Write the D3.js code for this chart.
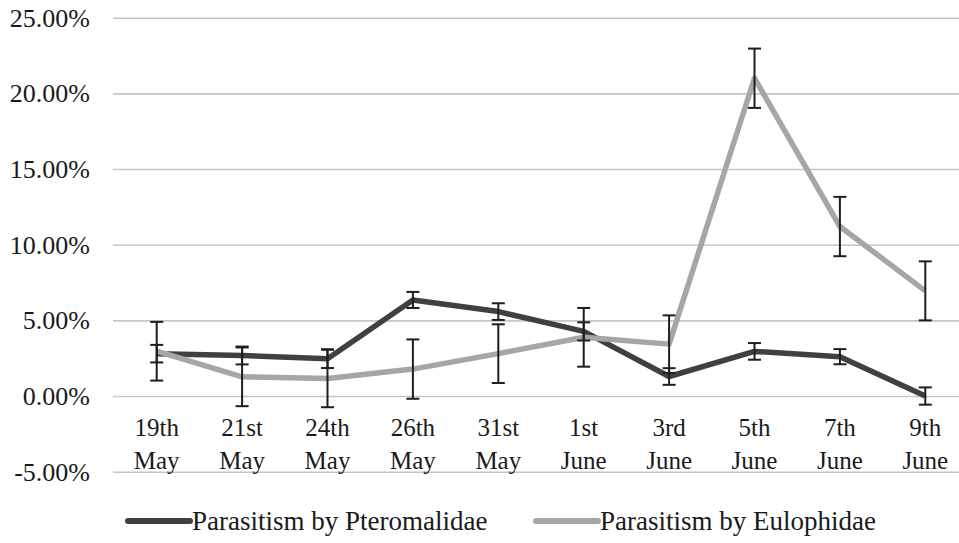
<!DOCTYPE html>
<html>
<head>
<meta charset="utf-8">
<script src="https://cdn.jsdelivr.net/npm/d3@7"></script>
<style>
    body { margin: 0; background: #fff; }
    svg text { font-family: "Times New Roman", "Liberation Serif", "DejaVu Serif", serif; fill: #1a1a1a; }
</style>
</head>
<body>
<div id="parasitism_plot"></div>
<script>
// data (percent)
var categories = ["19th May", "21st May", "24th May", "26th May", "31st May",
    "1st June", "3rd June", "5th June", "7th June", "9th June"];
var pteromalidae = [2.8, 2.68, 2.47, 6.35, 5.58, 4.27, 1.29, 2.95, 2.6, 0.0];
var pteromalidaeErr = [0.58, 0.59, 0.62, 0.53, 0.55, 0.6, 0.55, 0.55, 0.5, 0.57];
var eulophidae = [2.96, 1.27, 1.16, 1.78, 2.8, 3.88, 3.43, 21.0, 11.2, 6.95];
var eulophidaeErr = [1.94, 1.94, 1.9, 1.96, 1.94, 1.94, 1.9, 1.96, 1.96, 1.95];
var yTicks = [-5, 0, 5, 10, 15, 20, 25];
var seriesNames = ["Parasitism by Pteromalidae", "Parasitism by Eulophidae"];

var width = 959, height = 543;

var svg = d3.select("#parasitism_plot")
    .append("svg")
    .attr("width", width)
    .attr("height", height);

// X scale (one band per sampling date)
var x = d3.scaleBand()
    .domain(categories)
    .range([114, 968]);

// Y scale
var y = d3.scaleLinear()
    .domain([-5, 25])
    .range([471.7, 17.7]);

// gridlines + labels
var yAxis = svg.append("g")
    .attr("transform", "translate(113,0)")
    .call(d3.axisLeft(y)
        .tickValues(yTicks)
        .tickSize(-860)
        .tickPadding(23)
        .tickFormat(function (d) { return d.toFixed(2) + "%"; }));
yAxis.attr("font-family", null).attr("font-size", null);
yAxis.select(".domain").remove();
yAxis.selectAll(".tick line")
    .attr("stroke", "#c6c6c6")
    .attr("stroke-width", 1.6);
yAxis.selectAll(".tick text")
    .style("font-size", "26px")
    .attr("fill", "#1a1a1a");

// category labels, two lines each
var xLabels = svg.append("g")
    .selectAll("text")
    .data(categories)
    .enter()
    .append("text")
    .attr("text-anchor", "middle")
    .style("font-size", "25px")
    .attr("x", function (d) { return x(d) + x.bandwidth() / 2; });
xLabels.append("tspan")
    .attr("x", function (d) { return x(d) + x.bandwidth() / 2; })
    .attr("y", 436)
    .text(function (d) { return d.split(" ")[0]; });
xLabels.append("tspan")
    .attr("x", function (d) { return x(d) + x.bandwidth() / 2; })
    .attr("y", 469)
    .text(function (d) { return d.split(" ")[1]; });

function cx(i) { return x(categories[i]) + x.bandwidth() / 2; }

var line = d3.line()
    .x(function (d, i) { return cx(i); })
    .y(function (d) { return y(d); });

var colors = ["#404040", "#a6a6a6"];

svg.append("path")
    .datum(pteromalidae)
    .attr("fill", "none")
    .attr("stroke", colors[0])
    .attr("stroke-width", 5.5)
    .attr("stroke-linejoin", "round")
    .attr("d", line);

svg.append("path")
    .datum(eulophidae)
    .attr("fill", "none")
    .attr("stroke", colors[1])
    .attr("stroke-width", 5.5)
    .attr("stroke-linejoin", "round")
    .attr("d", line);

// error bars on top
function errorBars(values, errs) {
    var g = svg.append("g")
        .attr("stroke", "#1e1e1e")
        .attr("stroke-width", 2);
    values.forEach(function (v, i) {
        var top = y(v + errs[i]), bottom = y(v - errs[i]);
        g.append("line")
            .attr("x1", cx(i)).attr("x2", cx(i))
            .attr("y1", top).attr("y2", bottom);
        g.append("line")
            .attr("x1", cx(i) - 6.5).attr("x2", cx(i) + 6.5)
            .attr("y1", top).attr("y2", top);
        g.append("line")
            .attr("x1", cx(i) - 6.5).attr("x2", cx(i) + 6.5)
            .attr("y1", bottom).attr("y2", bottom);
    });
}
errorBars(pteromalidae, pteromalidaeErr);
errorBars(eulophidae, eulophidaeErr);

// legend
var legendX = [128, 536];
var legend = svg.append("g")
    .selectAll("g")
    .data(seriesNames)
    .enter()
    .append("g")
    .attr("transform", function (d, i) { return "translate(" + legendX[i] + ",521)"; });
legend.append("line")
    .attr("x1", 0).attr("x2", 62)
    .attr("stroke", function (d, i) { return colors[i]; })
    .attr("stroke-width", 6)
    .attr("stroke-linecap", "round");
legend.append("text")
    .attr("x", 64)
    .attr("y", 9)
    .style("font-size", "27px")
    .text(function (d) { return d; });
</script>
</body>
</html>
